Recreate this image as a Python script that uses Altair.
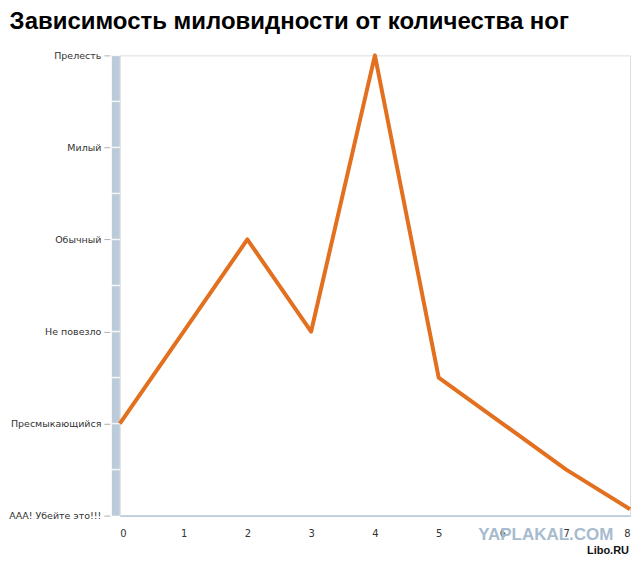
import altair as alt
import pandas as pd

# data
legs = [0, 1, 2, 3, 4, 5, 6, 7, 8]
cuteness = [1, 2, 3, 2, 5, 1.5, 1.0, 0.5, 0.07]
level_names = ["ААА! Убейте это!!!", "Пресмыкающийся", "Не повезло", "Обычный", "Милый", "Прелесть"]
level_values = [0, 1, 2, 3, 4, 5]
bar_marks = [0.5, 1, 1.5, 2, 2.5, 3, 3.5, 4, 4.5, 5]
x_axis_values = [i / 2 for i in range(17)]

df = pd.DataFrame({"legs": legs, "cute": cuteness})
marks_df = pd.DataFrame({"lvl": bar_marks})
one = pd.DataFrame({"a": [0]})

names_js = "[" + ",".join(f"'{n}'" for n in level_names) + "]"
y_label_expr = f"{names_js}[datum.value]"

x_scale = alt.Scale(domain=[0, 8], nice=False, zero=False)
y_scale = alt.Scale(domain=[0, 5], nice=False)

line = alt.Chart(df).mark_line(color="#e2701f", strokeWidth=4, strokeJoin="round").encode(
    x=alt.X("legs:Q", scale=x_scale,
            axis=alt.Axis(values=x_axis_values, title=None, grid=False, format="d",
                          labelExpr="datum.value % 1 == 0 ? format(datum.value, 'd') : ''",
                          labelOverlap=False, labelFont="DejaVu Sans", labelFontSize=10,
                          labelColor="#333333", labelPadding=8,
                          domainColor="#bccbd9", domainWidth=2,
                          tickColor="#c4cfd9", tickSize=5,
                          tickOpacity={"condition": {"test": "datum.value % 1 == 0", "value": 0}, "value": 1})),
    y=alt.Y("cute:Q", scale=y_scale,
            axis=alt.Axis(values=level_values, title=None, labelExpr=y_label_expr,
                          labelFont="DejaVu Sans", labelFontSize=9.5, labelColor="#333333",
                          labelPadding=3, offset=10, domain=False,
                          tickColor="#b0b0b0", tickSize=6,
                          gridColor="#e6e6e6", gridWidth=1)),
)

ybar = alt.Chart(one).mark_rule(color="#bccbd9", strokeWidth=8).encode(
    x=alt.value(-4), y=alt.datum(0), y2=alt.datum(5)
)

bar_ticks = alt.Chart(marks_df).mark_rule(color="white", strokeWidth=1.5, opacity=0.85).encode(
    x=alt.value(-8), x2=alt.value(0), y="lvl:Q"
)

wm1 = alt.Chart(one).mark_text(text="YAPLAKAL.COM", font="Liberation Sans", fontWeight="bold",
                               fontSize=17, color="#a7bbcf", dy=19, baseline="middle").encode(
    x=alt.datum(6.68), y=alt.datum(0)
)
wm2 = alt.Chart(one).mark_text(text="Libo.RU", font="Liberation Sans", fontWeight="bold",
                               fontSize=11, color="#111111", dy=35, dx=-1, align="right",
                               baseline="middle").encode(
    x=alt.datum(8), y=alt.datum(0)
)

chart = alt.layer(ybar, bar_ticks, wm1, line, wm2).properties(
    width=511, height=461,
    padding={"left": 0, "top": 2, "right": 0, "bottom": 0},
    title=alt.TitleParams("Зависимость миловидности от количества ног", anchor="start",
                          frame="bounds", font="Liberation Sans", fontWeight="bold",
                          fontSize=24, color="black", offset=16, dx=1),
).configure_view(stroke=None).configure(background="white")

chart.save("out.html", embed_options={"renderer": "svg", "actions": False})
